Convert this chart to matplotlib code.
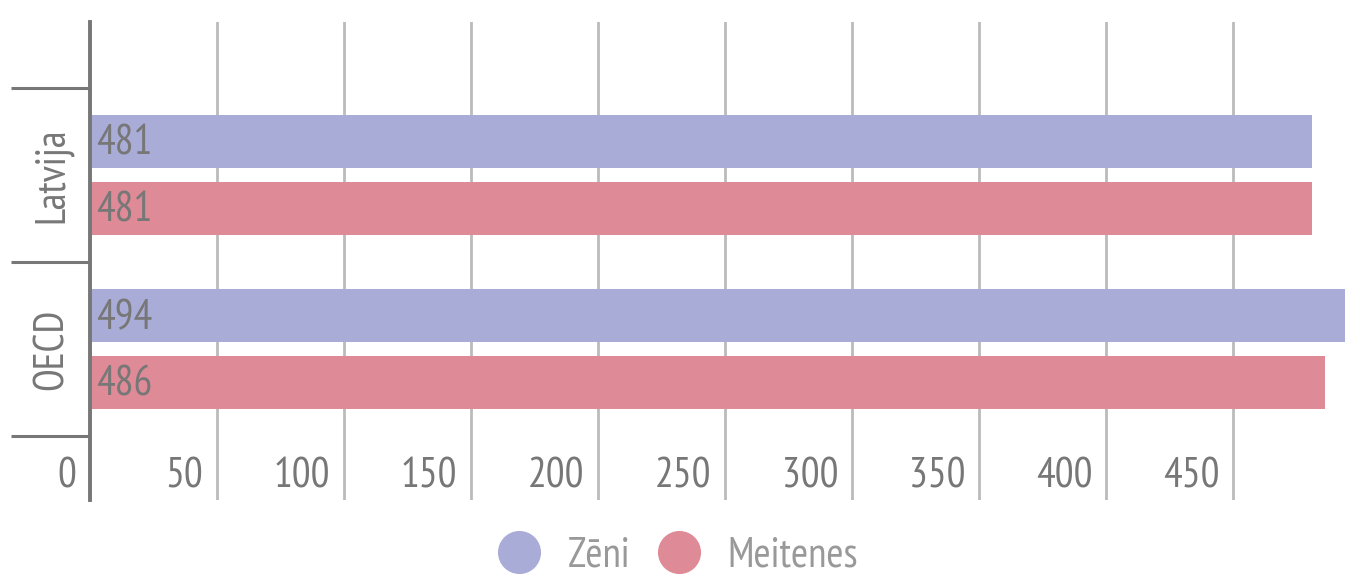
import matplotlib
matplotlib.use("Agg")
import matplotlib.pyplot as plt
import matplotlib.transforms as mtransforms
from matplotlib.lines import Line2D
import numpy as np

# dati
categories = ["Latvija", "OECD"]
series_names = ["Zēni", "Meitenes"]
zeni = [481, 494]
meitenes = [481, 486]
xticks = [0, 50, 100, 150, 200, 250, 300, 350, 400, 450]

colors = ["#AAACD8", "#DF8A97"]
axis_gray = "#777777"
text_gray = "#777777"

plt.rcParams['font.family'] = ['PT Sans Narrow', 'DejaVu Sans']
fs = 30

fig = plt.figure(figsize=(13.45, 5.76), dpi=100)
ax = fig.add_axes([90 / 1345, 76 / 576, 1 - 90 / 1345, 478 / 576])

y = np.arange(len(categories))
off = 0.1925
h = 0.305
down = mtransforms.ScaledTranslation(0, -3 / 100, fig.dpi_scale_trans)
for vals, dy, c in zip([zeni, meitenes], [-off, off], colors):
    bars = ax.barh(y + dy, vals, height=h, color=c, zorder=2)
    for b, v in zip(bars, vals):
        ax.text(2.5, b.get_y() + b.get_height() / 2, str(v), ha='left', va='center',
                fontsize=fs, color=text_gray, zorder=3, transform=ax.transData + down)

ax.set_xlim(0, 494)
ax.set_ylim(1.868, -0.879)

# vertikālās režģa līnijas
ax.set_xticks(xticks)
ax.tick_params(axis='x', length=0, labelbottom=False)
ax.grid(axis='x', color="#bbbbbb", linewidth=2, zorder=1)
shift = mtransforms.ScaledTranslation(-14 / 100, 0, fig.dpi_scale_trans)
for t in xticks:
    ax.text(t, 0.049, str(t), transform=ax.get_xaxis_transform() + shift,
            ha='right', va='center', fontsize=fs, color=text_gray)

ax.set_yticks(y)
ax.set_yticklabels(categories, rotation=90, va='center', fontsize=fs, color=text_gray)
ax.tick_params(axis='y', which='major', length=0, pad=13)
ax.set_yticks([-0.5, 0.5, 1.5], minor=True)
ax.tick_params(axis='y', which='minor', length=57, width=2.2, color=axis_gray)

for s in ['top', 'right', 'bottom']:
    ax.spines[s].set_visible(False)
ax.spines['left'].set_color(axis_gray)
ax.spines['left'].set_linewidth(2.8)

handles = [Line2D([], [], marker='o', linestyle='none', markersize=30, markerfacecolor=c,
                  markeredgecolor=c) for c in colors]
leg = fig.legend(handles, series_names, loc='center', bbox_to_anchor=(678 / 1345, 1 - 556 / 576),
                 ncol=2, frameon=False, fontsize=fs, handlelength=1.0, handletextpad=0.67,
                 columnspacing=0.67, borderaxespad=0)
for t in leg.get_texts():
    t.set_color("#999999")

fig.savefig("out.png", dpi=100)
